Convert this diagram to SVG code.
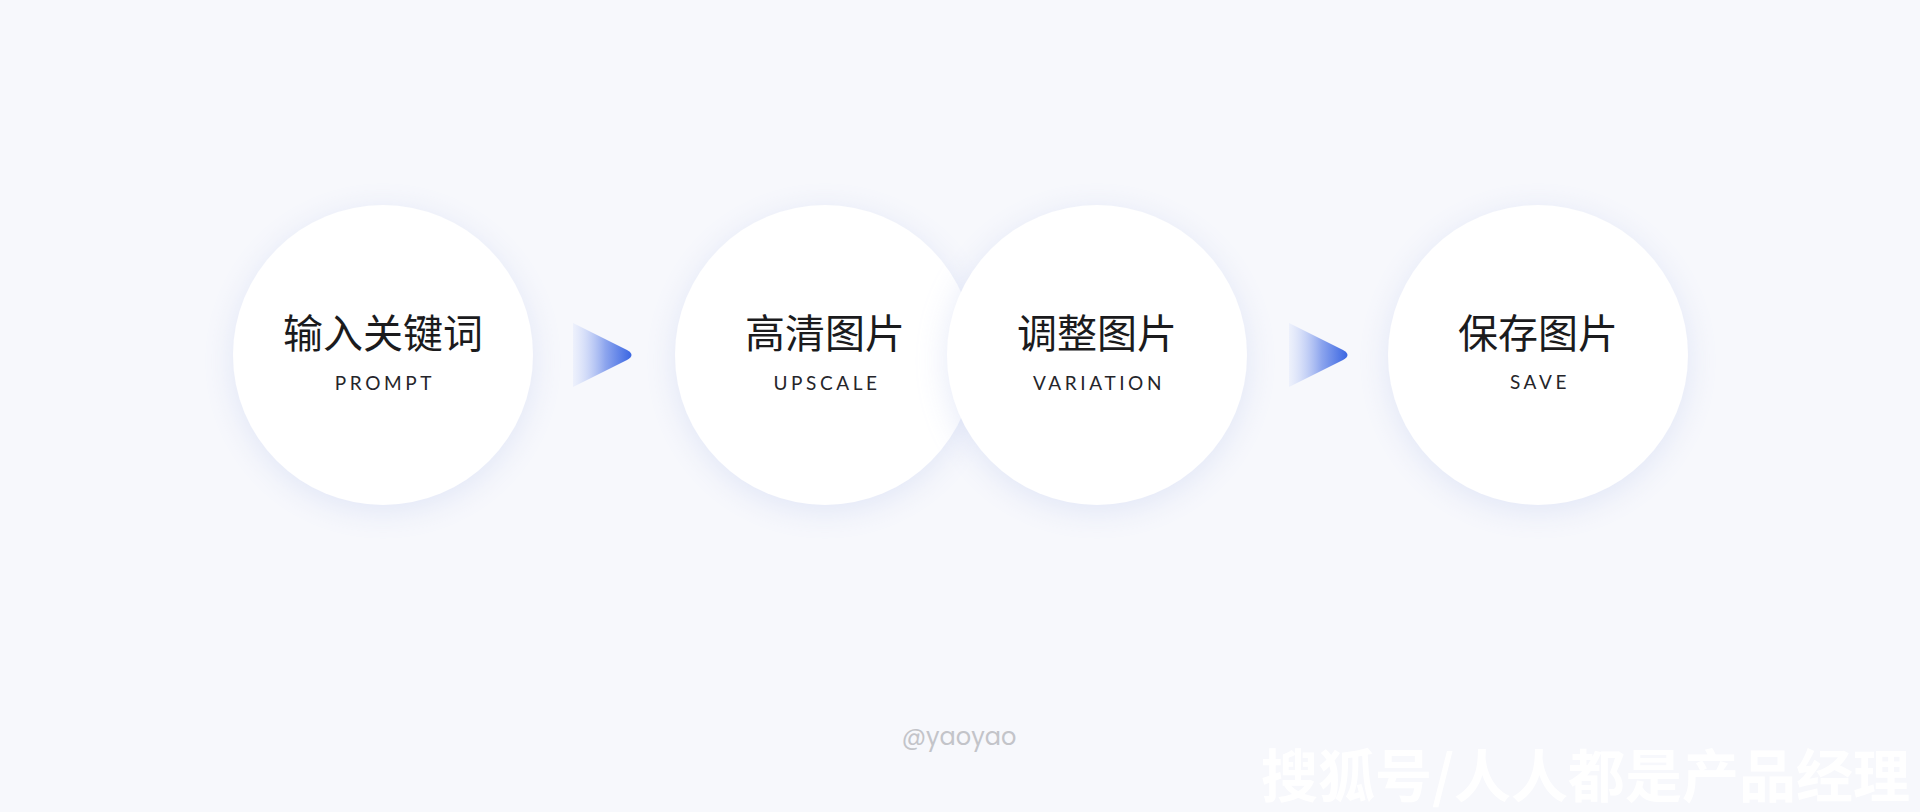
<svg xmlns="http://www.w3.org/2000/svg" width="1920" height="812" viewBox="0 0 1920 812">
  <style>
    .node circle { fill: #ffffff; filter: url(#shadow); }
    .title { font-family: "Noto Sans CJK SC", "Noto Sans", sans-serif; font-size: 40px; font-weight: 400; fill: #1b1b1d; text-anchor: middle; }
    .sub { font-family: "Lato", "Noto Sans", sans-serif; font-size: 19px; font-weight: 400; fill: #25252a; text-anchor: middle; letter-spacing: 3.6px; }
    .arrow { fill: url(#arrowGrad); }
  </style>
  <defs>
    <filter id="shadow" x="-30%" y="-30%" width="160%" height="160%">
      <feDropShadow dx="0" dy="6" stdDeviation="16" flood-color="#c5cff0" flood-opacity="0.45"/>
    </filter>
    <linearGradient id="arrowGrad" x1="0" y1="0" x2="1" y2="0">
      <stop offset="0" stop-color="#dfe6fb" stop-opacity="0.4"/>
      <stop offset="0.55" stop-color="#8ea6ee"/>
      <stop offset="1" stop-color="#3a66e2"/>
    </linearGradient>
  </defs>
  <rect width="1920" height="812" fill="#f7f8fc"/>

  <g id="connectors">
    <path class="arrow" d="M573,323 L627,350 Q636,355 627,360 L573,387 Z"/>
    <path class="arrow" d="M1289,323 L1343,350 Q1352,355 1343,360 L1289,387 Z"/>
  </g>

  <g id="node-prompt" class="node">
    <circle cx="383" cy="355" r="150"/>
    <text class="title" x="383" y="348">输入关键词</text>
    <text class="sub" x="385" y="390">PROMPT</text>
  </g>
  <g id="node-upscale" class="node">
    <circle cx="825" cy="355" r="150"/>
    <text class="title" x="825" y="348">高清图片</text>
    <text class="sub" x="827" y="390">UPSCALE</text>
  </g>
  <g id="node-variation" class="node">
    <circle cx="1097" cy="355" r="150"/>
    <text class="title" x="1097" y="348">调整图片</text>
    <text class="sub" x="1099" y="390">VARIATION</text>
  </g>
  <g id="node-save" class="node">
    <circle cx="1538" cy="355" r="150"/>
    <text class="title" x="1538" y="348">保存图片</text>
    <text class="sub" x="1540" y="389">SAVE</text>
  </g>

  <text x="959" y="745" font-family="Poppins, 'Open Sans', sans-serif" font-size="24" fill="#c3c4c9" text-anchor="middle">@yaoyao</text>
  <text x="1910" y="797" font-family="'Noto Sans CJK SC', sans-serif" font-size="57" font-weight="700" fill="#ffffff" text-anchor="end">搜狐号/人人都是产品经理</text>
</svg>
